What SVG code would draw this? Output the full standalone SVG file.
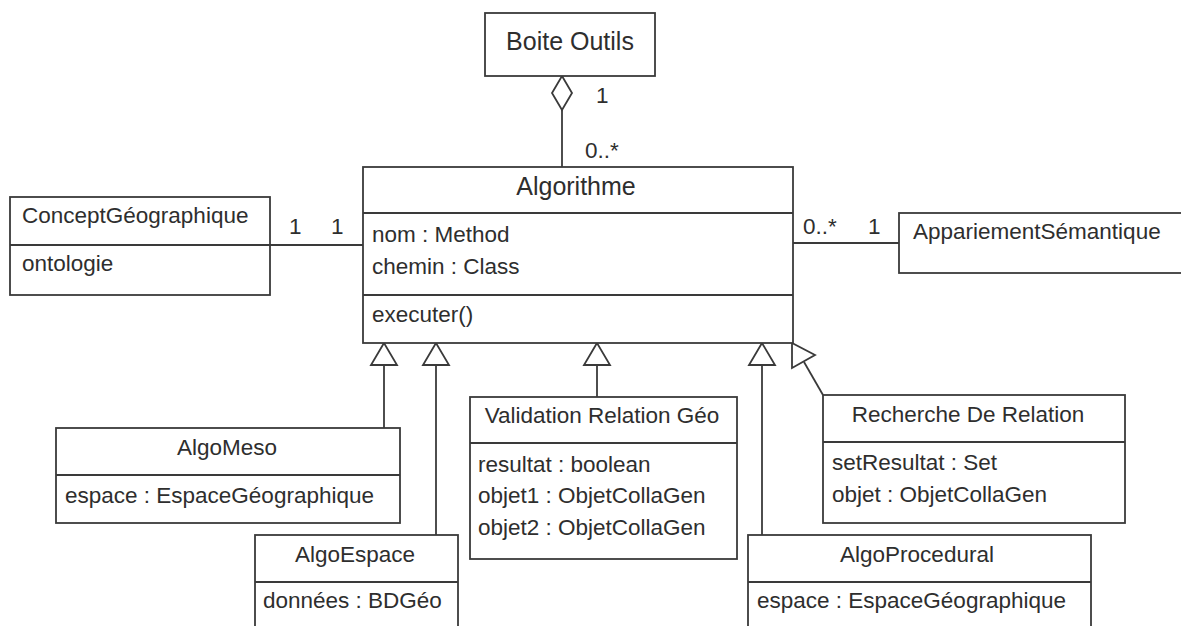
<svg xmlns="http://www.w3.org/2000/svg" width="1181" height="626" viewBox="0 0 1181 626">
<style>
.box{fill:#fff;stroke:#3a3a3a;stroke-width:1.8}
.ln{fill:none;stroke:#3a3a3a;stroke-width:1.8}
.tri{fill:#fff;stroke:#3a3a3a;stroke-width:1.8}
text{font-family:"Liberation Sans",Arial,sans-serif;fill:#2e2e2e;font-size:22.5px}
.t{text-anchor:middle}
.big{font-size:25px}
</style>
<defs>
<polygon id="gen" class="tri" points="0,0 -13,22 13,22"/>
</defs>
<rect width="1181" height="626" fill="#fff"/>
<g id="connectors">
<line class="ln" x1="562" y1="110" x2="562" y2="167"/>
<polygon class="tri" points="562,76 572,93 562,110 552,93"/>
<line class="ln" x1="270" y1="245" x2="363" y2="245"/>
<line class="ln" x1="793" y1="243" x2="899" y2="243"/>
<line class="ln" x1="384" y1="365" x2="384" y2="428"/>
<use href="#gen" x="384" y="343"/>
<line class="ln" x1="436" y1="365" x2="436" y2="535"/>
<use href="#gen" x="436" y="343"/>
<line class="ln" x1="597" y1="365" x2="597" y2="397"/>
<use href="#gen" x="597" y="343"/>
<line class="ln" x1="762" y1="365" x2="762" y2="535"/>
<use href="#gen" x="762" y="343"/>
<line class="ln" x1="823" y1="395" x2="804" y2="362"/>
<polygon class="tri" points="792,343 792,368 815,355"/>
<text x="596" y="103">1</text>
<text x="585" y="158">0..*</text>
<text x="289" y="234">1</text>
<text x="331" y="234">1</text>
<text x="803" y="234">0..*</text>
<text x="868" y="234">1</text>
</g>
<g id="boite-outils">
<rect class="box" x="485" y="13" width="170" height="63"/>
<text class="t big" x="570" y="50">Boite Outils</text>
</g>
<g id="algorithme">
<rect class="box" x="363" y="167" width="430" height="176"/>
<line class="ln" x1="363" y1="213" x2="793" y2="213"/>
<line class="ln" x1="363" y1="295" x2="793" y2="295"/>
<text class="t big" x="576" y="195">Algorithme</text>
<text x="372" y="242">nom : Method</text>
<text x="372" y="274">chemin : Class</text>
<text x="372" y="322">executer()</text>
</g>
<g id="concept-geographique">
<rect class="box" x="10" y="197" width="260" height="98"/>
<line class="ln" x1="10" y1="245" x2="270" y2="245"/>
<text x="22" y="223">ConceptGéographique</text>
<text x="22" y="271">ontologie</text>
</g>
<g id="appariement-semantique">
<rect class="box" x="899" y="213" width="290" height="60"/>
<text x="913" y="239">AppariementSémantique</text>
</g>
<g id="algo-meso">
<rect class="box" x="56" y="428" width="344" height="95"/>
<line class="ln" x1="56" y1="475" x2="400" y2="475"/>
<text class="t" x="227" y="455">AlgoMeso</text>
<text x="65" y="503">espace : EspaceGéographique</text>
</g>
<g id="algo-espace">
<rect class="box" x="255" y="535" width="203" height="100"/>
<line class="ln" x1="255" y1="582" x2="458" y2="582"/>
<text class="t" x="355" y="562">AlgoEspace</text>
<text x="263" y="608">données : BDGéo</text>
</g>
<g id="validation-relation-geo">
<rect class="box" x="470" y="397" width="267" height="162"/>
<line class="ln" x1="470" y1="443" x2="737" y2="443"/>
<text class="t" x="602" y="423">Validation Relation Géo</text>
<text x="478" y="472">resultat : boolean</text>
<text x="478" y="503">objet1 : ObjetCollaGen</text>
<text x="478" y="535">objet2 : ObjetCollaGen</text>
</g>
<g id="recherche-de-relation">
<rect class="box" x="823" y="395" width="302" height="128"/>
<line class="ln" x1="823" y1="442" x2="1125" y2="442"/>
<text class="t" x="968" y="422">Recherche De Relation</text>
<text x="832" y="470">setResultat : Set</text>
<text x="832" y="502">objet : ObjetCollaGen</text>
</g>
<g id="algo-procedural">
<rect class="box" x="748" y="535" width="343" height="100"/>
<line class="ln" x1="748" y1="582" x2="1091" y2="582"/>
<text class="t" x="917" y="562">AlgoProcedural</text>
<text x="757" y="608">espace : EspaceGéographique</text>
</g>
</svg>
